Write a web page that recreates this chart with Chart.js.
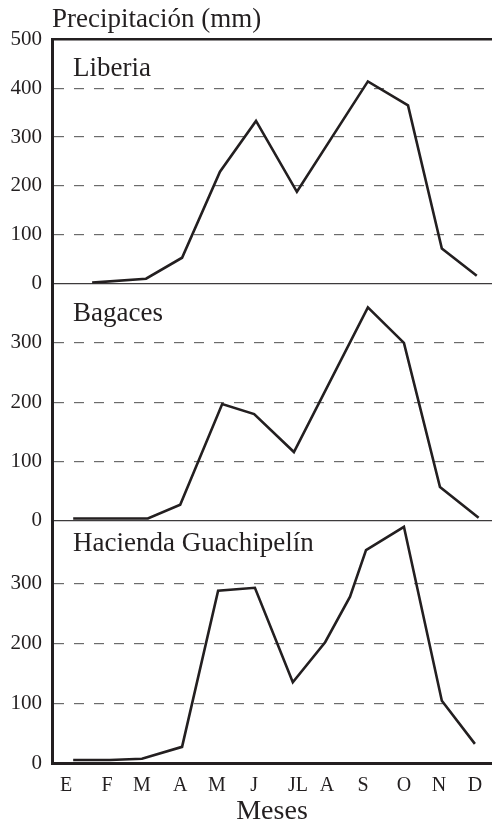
<!DOCTYPE html>
<html lang="es">
<head>
<meta charset="utf-8">
<title>Precipitación mensual</title>
<script src="https://cdn.jsdelivr.net/npm/chart.js@4.4.1/dist/chart.umd.min.js"></script>
<style>
  html, body { margin: 0; padding: 0; background: #fff; }
  #chart { display: block; }
</style>
</head>
<body>
<canvas id="chart" width="492" height="823"></canvas>
<script>
// Months on the x axis and where each letter sits (month units, as printed)
const monthLabels = ['E', 'F', 'M', 'A', 'M', 'J', 'JL', 'A', 'S', 'O', 'N', 'D'];
const monthTicks = [0, 1.1, 2.04, 3.07, 4.06, 5.06, 6.24, 7.02, 7.99, 9.09, 10.03, 11.0];

// Liberia
const liberiaX = [0.7, 2.15, 3.12, 4.14, 5.11, 6.21, 8.12, 9.2, 10.11, 11.05];
const liberiaY = [2, 10, 53, 229, 333, 188, 414, 365, 72, 16];

// Bagaces
const bagacesX = [0.19, 2.2, 3.07, 4.2, 5.06, 6.13, 8.12, 9.09, 10.06, 11.1];
const bagacesY = [4, 4, 27, 197, 180, 116, 360, 300, 57, 5];

// Hacienda Guachipelín
const haciendaX = [0.19, 1.18, 2.04, 3.12, 4.09, 5.08, 6.1, 6.97, 7.64, 8.07, 9.09, 10.11, 11.0];
const haciendaY = [5, 5, 7, 27, 288, 293, 135, 202, 278, 356, 395, 104, 32];

// y tick values of each panel
const topTicks = [0, 100, 200, 300, 400, 500];
const lowerTicks = [0, 100, 200, 300];

const ink = '#231f20';
const serif = '"Liberation Serif", "Times New Roman", serif';

function toPoints(xs, ys) {
    return xs.map((x, i) => ({ x: x, y: ys[i] }));
}

// one y axis per panel, stacked on the left
function panelScale(max, tickValues, weight, order, isBottom) {
    return {
        type: 'linear',
        position: 'left',
        stack: 'panels',
        stackWeight: weight,
        weight: order,
        min: 0,
        max: max,
        afterBuildTicks: scale => { scale.ticks = tickValues.map(v => ({ value: v })); },
        afterFit: scale => { scale.width = 52; },
        ticks: {
            color: ink,
            padding: 10,
            autoSkip: false,
            font: { family: serif, size: 21 },
        },
        grid: {
            drawTicks: false,
            color: ctx => {
                const v = ctx.tick.value;
                if (v === 0) return isBottom ? 'rgba(0,0,0,0)' : '#3d3b3c';
                if (v === 500) return ink;
                return '#6b6b6b';
            },
            lineWidth: ctx => {
                const v = ctx.tick.value;
                if (v === 500) return 2.4;
                return v === 0 ? 1.3 : 1.2;
            },
        },
        border: {
            display: true,
            color: ink,
            width: 3,
            dash: ctx => (ctx.tick && ctx.tick.value % 500 !== 0) ? [10, 10] : [],
            dashOffset: 0,
        },
    };
}

const panelLabels = {
    id: 'panelLabels',
    afterDatasetsDraw(chart) {
        const ctx = chart.ctx;
        const left = chart.scales.x.left;
        const drops = [37, 37, 30];
        ctx.save();
        ctx.font = '27px ' + serif;
        ctx.fillStyle = ink;
        ctx.textBaseline = 'alphabetic';
        chart.data.datasets.forEach((ds, i) => {
            const yScale = chart.scales[ds.yAxisID];
            ctx.fillText(ds.label, left + 21, yScale.top + drops[i]);
        });
        ctx.restore();
    }
};

const lineStyle = {
    borderColor: ink,
    borderWidth: 2.6,
    pointRadius: 0,
    tension: 0,
    fill: false,
};

new Chart(document.getElementById('chart'), {
    type: 'line',
    data: {
        datasets: [
            { label: 'Liberia', data: toPoints(liberiaX, liberiaY), yAxisID: 'yA', ...lineStyle },
            { label: 'Bagaces', data: toPoints(bagacesX, bagacesY), yAxisID: 'yB', ...lineStyle },
            { label: 'Hacienda Guachipelín', data: toPoints(haciendaX, haciendaY), yAxisID: 'yC', ...lineStyle },
        ]
    },
    options: {
        responsive: false,
        animation: false,
        layout: { padding: 0 },
        plugins: {
            legend: { display: false },
            tooltip: { enabled: false },
            title: {
                display: true,
                text: 'Precipitación (mm)',
                align: 'start',
                fullSize: false,
                color: ink,
                font: { family: serif, size: 27, weight: 'normal' },
                padding: { top: 4, bottom: 3 },
            },
        },
        scales: {
            x: {
                type: 'linear',
                min: -0.38,
                max: 11.46,
                afterBuildTicks: scale => { scale.ticks = monthTicks.map(v => ({ value: v })); },
                afterFit: scale => { scale.height = 60; },
                ticks: {
                    color: ink,
                    padding: 3,
                    autoSkip: false,
                    maxRotation: 0,
                    font: { family: serif, size: 20 },
                    callback: (value, index) => monthLabels[index],
                },
                grid: { display: false },
                border: { display: true, color: ink, width: 3 },
                title: {
                    display: true,
                    text: 'Meses',
                    color: ink,
                    font: { family: serif, size: 28, lineHeight: 0.8 },
                    padding: { top: 0, bottom: 0 },
                },
            },
            yC: panelScale(405, lowerTicks, 242, 1, true),
            yB: panelScale(400, lowerTicks, 237, 2, false),
            yA: panelScale(500, topTicks, 244, 3, false),
        }
    },
    plugins: [panelLabels]
});
</script>
</body>
</html>
